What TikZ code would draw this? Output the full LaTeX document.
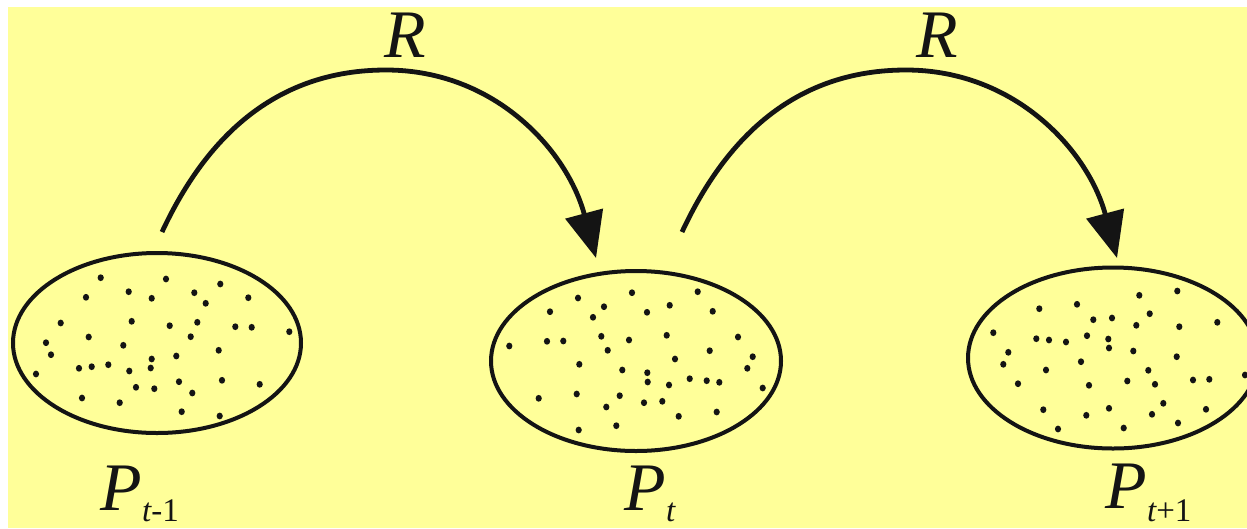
\documentclass[tikz,border=0pt]{standalone}
\usepackage{fontspec}
\setmainfont{Liberation Serif}
\usetikzlibrary{arrows.meta,shapes.geometric}
\definecolor{bgyellow}{RGB}{255,255,153}
\definecolor{ink}{RGB}{20,20,20}
\tikzset{
  pop/.style={draw=ink, line width=4pt, shape=ellipse, inner sep=0pt},
  grain/.style={fill=ink, draw=none},
  rel/.style={draw=ink, line width=4.8pt, -{Triangle[length=46pt,width=38pt]}},
  biglabel/.style={inner sep=0pt, text=ink, font=\fontsize{68}{68}\selectfont\itshape},
  sublabel/.style={inner sep=0pt, text=ink, anchor=base west, font=\fontsize{33}{33}\selectfont},
}
\begin{document}
\begin{tikzpicture}[x=1pt,y=-1pt]
\useasboundingbox (0,0) rectangle (1247,528);
\fill[bgyellow] (8,7) rectangle (1247,528);

% populations
\node[pop, minimum width=288pt, minimum height=180pt] (e1) at (157,343) {};
\node[pop, minimum width=290pt, minimum height=180pt] (e2) at (636,361) {};
\node[pop, minimum width=290pt, minimum height=181pt] (e3) at (1113,358) {};

% dots
\foreach \x/\y in {100.7/277.7,166/279,220.3/284,86/297.3,128.7/291.7,151.7/298.3,194.3/292.7,205.7/303.3,248.3/297.7,60.7/323,131.7/321.3,169.7/325.7,197.3/322.3,235.3/326.7,251.7/327.3,289.3/331.7,46/342.7,88.7/337,190.7/336.7,123.3/345.3,51/354.7,218.7/350.3,151.7/359,176.3/356,79/368.3,91.7/366.7,108.3/364.7,129.3/371,150.7/368,36/374,179/381.7,222/380.3,259.7/384.3,136/387.3,154.3/388.7,192.3/393,82/398,119.7/402.7,181.7/411.7,219.7/416,
578/298,632/292.7,697.7/291.7,550/311.7,604/306.7,669.7/305.3,647/312.3,712.7/311.3,593/317.3,509.3/346,547/341.3,563.3/341,601.3/336.3,629/340,666.7/335.3,738/337,607.7/350.3,709.7/350.7,675/359,752.7/356.7,579.3/364.3,622.3/370,647.3/372.7,747.3/368.3,647.7/382,669/385,689.7/378.7,706.7/380.7,719.3/382.3,762.7/388,538.7/398.3,576.7/394,619.7/395.7,606.3/407,644/402.7,662.3/401.3,678.7/416.3,716.7/412,578.7/430,616.3/425.7,
1139.3/295.3,1177.3/291,1039.3/308.7,1077/304.3,1093.3/319.7,1112/318,1149.7/313.7,1136.3/325.3,1179.3/326.7,1217.3/322.3,993.3/332.7,1036.3/338.7,1049/340,1066/342,1087/335.7,1108.3/339,1109/348,1133.3/351,1008.3/352.3,1003.3/364.3,1081/361.7,1176.7/356.7,1046/370,1148.3/370.3,1018/383.7,1089/385.3,1127.3/381,1155/384.3,1193/380,1209.3/379.3,1245/375,1163.3/403.3,1043.3/409.7,1086.3/415.3,1109/408.3,1152/414.3,1206/409.3,1058/429,1123.7/428,1178/423}
  \fill[grain] (\x,\y) ellipse [x radius=3.1, y radius=3.4];

% arrows
\coordinate (a1s) at (162,232);
\coordinate (a1p) at (386,70);
\coordinate (a1e) at (596,258);
\coordinate (a2s) at (682,232);
\coordinate (a2p) at (906,70);
\coordinate (a2e) at (1117,258);
\draw[rel] (a1s) .. controls (207.6,134.1) and (278,70) .. (a1p)
  .. controls (496,70) and (567.5,151.7) .. (a1e);
\draw[rel] (a2s) .. controls (727.6,134.1) and (798,70) .. (a2p)
  .. controls (1016,70) and (1088.5,151.7) .. (a2e);

% labels
\node[biglabel, anchor=base] (r1) at (405,57) {R};
\node[biglabel, anchor=base] (r2) at (937,57) {R};

\node[biglabel, anchor=base] (p1) at (121,510) {P};
\node[sublabel] (s1) at (142,521) {\itshape t\upshape -1};
\node[biglabel, anchor=base] (p2) at (645,510) {P};
\node[sublabel] (s2) at (666,521) {\itshape t};
\node[biglabel, anchor=base] (p3) at (1126,508) {P};
\node[sublabel] (s3) at (1147,521) {\itshape t\upshape +1};
\end{tikzpicture}
\end{document}
